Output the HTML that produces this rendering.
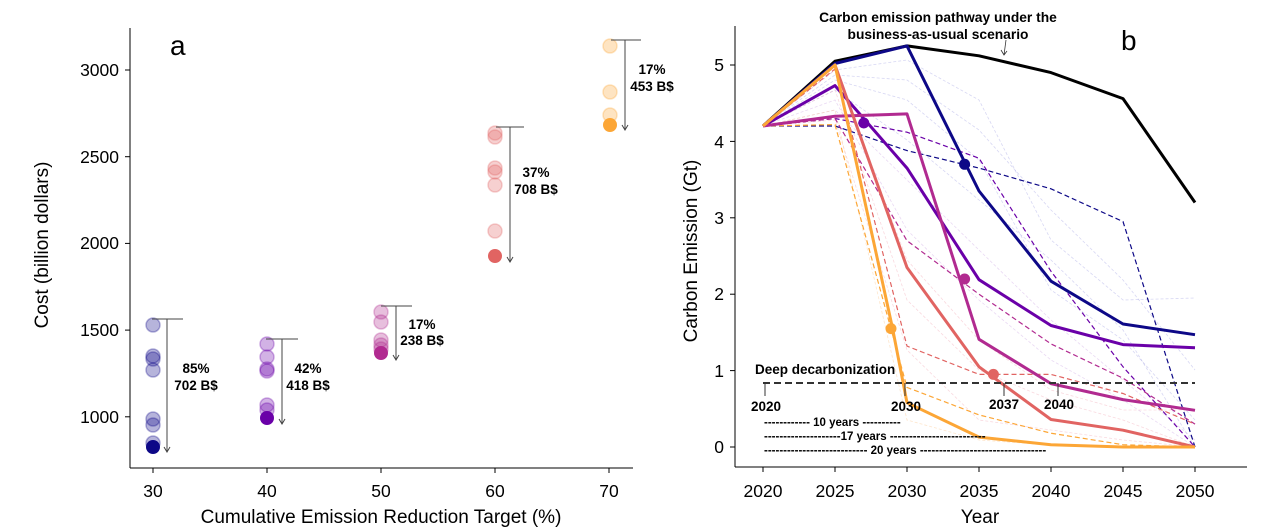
<!DOCTYPE html>
<html><head><meta charset="utf-8"><style>
html,body{margin:0;padding:0;background:#fff;}
svg{display:block;font-family:"Liberation Sans",Arial,sans-serif;}
</style></head><body>
<svg width="1271" height="531" viewBox="0 0 1271 531" xmlns="http://www.w3.org/2000/svg">
<!-- LEFT PANEL -->
<g stroke="#000" stroke-width="1" fill="none">
<line x1="130" y1="28" x2="130" y2="468"/>
<line x1="130" y1="468" x2="633" y2="468"/>
<line x1="125" y1="70" x2="130" y2="70"/><line x1="125" y1="156.7" x2="130" y2="156.7"/>
<line x1="125" y1="243.4" x2="130" y2="243.4"/><line x1="125" y1="330.1" x2="130" y2="330.1"/>
<line x1="125" y1="416.8" x2="130" y2="416.8"/>
<line x1="153" y1="468" x2="153" y2="473"/><line x1="267" y1="468" x2="267" y2="473"/>
<line x1="381" y1="468" x2="381" y2="473"/><line x1="495" y1="468" x2="495" y2="473"/>
<line x1="609" y1="468" x2="609" y2="473"/>
</g>
<g font-size="17.5" fill="#000" text-anchor="end">
<text x="119" y="76">3000</text><text x="119" y="163">2500</text><text x="119" y="249">2000</text>
<text x="119" y="336">1500</text><text x="119" y="423">1000</text>
</g>
<g font-size="17.5" fill="#000" text-anchor="middle">
<text x="153" y="497">30</text><text x="267" y="497">40</text><text x="381" y="497">50</text>
<text x="495" y="497">60</text><text x="609" y="497">70</text>
</g>
<g font-size="19" fill="#000" text-anchor="middle">
<text x="381" y="523">Cumulative Emission Reduction Target (%)</text>
<text transform="translate(48,245) rotate(-90)">Cost (billion dollars)</text>
</g>
<text x="170" y="55" font-size="28">a</text>
<!-- points -->
<g stroke-width="1.5">
<g fill="#0d0887" fill-opacity="0.3" stroke="#0d0887" stroke-opacity="0.3">
<circle cx="153" cy="325" r="7"/><circle cx="153" cy="356" r="7"/><circle cx="153" cy="359" r="7"/><circle cx="153" cy="370" r="7"/>
<circle cx="153" cy="419" r="7"/><circle cx="153" cy="425" r="7"/><circle cx="153" cy="443" r="7"/></g>
<circle cx="153" cy="447" r="7" fill="#0d0887"/>
<g fill="#6a00a8" fill-opacity="0.3" stroke="#6a00a8" stroke-opacity="0.3">
<circle cx="267" cy="344" r="7"/><circle cx="267" cy="357" r="7"/><circle cx="267" cy="369" r="7"/><circle cx="267" cy="371" r="7"/>
<circle cx="267" cy="405" r="7"/><circle cx="267" cy="410" r="7"/></g>
<circle cx="267" cy="418" r="7" fill="#6a00a8"/>
<g fill="#b12a90" fill-opacity="0.3" stroke="#b12a90" stroke-opacity="0.3">
<circle cx="381" cy="312" r="7"/><circle cx="381" cy="322" r="7"/><circle cx="381" cy="340" r="7"/><circle cx="381" cy="345" r="7"/><circle cx="381" cy="349" r="7"/></g>
<circle cx="381" cy="353" r="7" fill="#b12a90"/>
<g fill="#e16462" fill-opacity="0.3" stroke="#e16462" stroke-opacity="0.3">
<circle cx="495" cy="133" r="7"/><circle cx="495" cy="137" r="7"/><circle cx="495" cy="168" r="7"/><circle cx="495" cy="172" r="7"/>
<circle cx="495" cy="185" r="7"/><circle cx="495" cy="231" r="7"/></g>
<circle cx="495" cy="256" r="7" fill="#e16462"/>
<g fill="#fca636" fill-opacity="0.3" stroke="#fca636" stroke-opacity="0.3">
<circle cx="610" cy="46" r="7"/><circle cx="610" cy="92" r="7"/><circle cx="610" cy="115" r="7"/></g>
<circle cx="610" cy="125" r="7" fill="#fca636"/>
</g>
<!-- arrows -->
<g stroke="#444" stroke-width="1" fill="none">
<path d="M152 319H183M167 319V452M164 447L167 452L170 447"/>
<path d="M266 339H298M282 339V424M279 419L282 424L285 419"/>
<path d="M381 306H412M396 306V360M393 355L396 360L399 355"/>
<path d="M496 127H524M510 127V262M507 257L510 262L513 257"/>
<path d="M611 40H641M625 40V130M622 125L625 130L628 125"/>
</g>
<g font-size="13.5" font-weight="bold" text-anchor="middle" fill="#000">
<text x="196" y="373">85%</text><text x="196" y="390">702 B$</text>
<text x="308" y="373">42%</text><text x="308" y="390">418 B$</text>
<text x="422" y="329">17%</text><text x="422" y="345">238 B$</text>
<text x="536" y="177">37%</text><text x="536" y="194">708 B$</text>
<text x="652" y="74">17%</text><text x="652" y="91">453 B$</text>
</g>

<!-- RIGHT PANEL -->
<g stroke="#000" stroke-width="1" fill="none">
<line x1="735" y1="26" x2="735" y2="467"/>
<line x1="735" y1="467" x2="1247" y2="467"/>
<line x1="730" y1="447" x2="735" y2="447"/><line x1="730" y1="370.6" x2="735" y2="370.6"/>
<line x1="730" y1="294.2" x2="735" y2="294.2"/><line x1="730" y1="217.8" x2="735" y2="217.8"/>
<line x1="730" y1="141.4" x2="735" y2="141.4"/><line x1="730" y1="65" x2="735" y2="65"/>
<line x1="763" y1="467" x2="763" y2="472"/><line x1="835" y1="467" x2="835" y2="472"/>
<line x1="907" y1="467" x2="907" y2="472"/><line x1="979" y1="467" x2="979" y2="472"/>
<line x1="1051" y1="467" x2="1051" y2="472"/><line x1="1123" y1="467" x2="1123" y2="472"/>
<line x1="1195" y1="467" x2="1195" y2="472"/>
</g>
<g font-size="17.5" fill="#000" text-anchor="end">
<text x="724" y="453">0</text><text x="724" y="377">1</text><text x="724" y="300">2</text>
<text x="724" y="224">3</text><text x="724" y="148">4</text><text x="724" y="71">5</text>
</g>
<g font-size="17.5" fill="#000" text-anchor="middle">
<text x="763" y="497">2020</text><text x="835" y="497">2025</text><text x="907" y="497">2030</text>
<text x="979" y="497">2035</text><text x="1051" y="497">2040</text><text x="1123" y="497">2045</text>
<text x="1195" y="497">2050</text>
</g>
<g font-size="19" fill="#000" text-anchor="middle">
<text x="980" y="523">Year</text>
<text transform="translate(697,251) rotate(-90)">Carbon Emission (Gt)</text>
</g>
<text x="1121" y="50" font-size="28">b</text>
<!-- faint lines -->
<g fill="none" stroke-width="0.8" stroke-dasharray="3,2" stroke-opacity="0.4">
<polyline stroke="#9a9ae0" points="763,126 835,70 907,60 979,100 1051,240 1123,300 1195,298"/>
<polyline stroke="#9a9ae0" points="763,126 835,75 907,80 979,130 1051,210 1123,280 1195,370"/>
<polyline stroke="#9a9ae0" points="763,126 835,90 907,140 979,200 1051,260 1123,330 1195,447"/>
<polyline stroke="#9a9ae0" points="763,126 835,80 907,100 979,160 1051,290 1123,340 1195,420"/>
<polyline stroke="#c9a0e0" points="763,126 835,110 907,180 979,250 1051,320 1123,380 1195,440"/>
<polyline stroke="#c9a0e0" points="763,126 835,100 907,230 979,300 1051,360 1123,400 1195,447"/>
<polyline stroke="#f0a0b0" points="763,126 835,90 907,300 979,370 1051,400 1123,420 1195,447"/>
<polyline stroke="#f0a0b0" points="763,126 835,120 907,350 979,420 1051,430 1123,440 1195,447"/>
<polyline stroke="#f0a0b0" points="763,126 835,70 907,260 979,340 1051,390 1123,410 1195,410"/>
<polyline stroke="#fcc080" points="763,126 835,110 907,420 979,440 1051,445 1123,447 1195,447"/>
</g>
<!-- dashed series -->
<g fill="none" stroke-width="1.2" stroke-dasharray="5,3">
<polyline stroke="#0d0887" points="763,126 835,126 907,150.6 979,168.1 1051,188.8 1123,221.6 1195,447"/>
<polyline stroke="#6a00a8" points="763,126 835,118.5 907,132.2 979,158.2 1051,271.3 1123,366.8 1195,447"/>
<polyline stroke="#b12a90" points="763,126 835,118.5 907,240.7 979,294.2 1051,343.9 1123,378.2 1195,424.1"/>
<polyline stroke="#e16462" points="763,126 835,69 907,346.1 979,374.4 1051,374.4 1123,393.5 1195,424.1"/>
<polyline stroke="#fca636" points="763,126 835,124.6 907,387.4 979,414.9 1051,433.2 1123,444.7 1195,447"/>
</g>
<!-- solid series -->
<g fill="none" stroke-width="3" stroke-linejoin="round">
<polyline stroke="#000" points="763,126 835,61.2 907,45.9 979,55.8 1051,72.6 1123,98.6 1195,202.5"/>
<polyline stroke="#0d0887" points="763,126 835,63.5 907,45.9 979,191 1051,281.2 1123,324 1195,334.7"/>
<polyline stroke="#6a00a8" points="763,126 835,85.6 907,168.1 979,279.7 1051,325.5 1123,344.6 1195,347.7"/>
<polyline stroke="#b12a90" points="763,126 835,116.2 907,113.9 979,339.3 1051,383.6 1123,399.6 1195,410.3"/>
<polyline stroke="#e16462" points="763,126 835,65 907,267.5 979,366.8 1051,419.5 1123,430.2 1195,447"/>
<polyline stroke="#fca636" points="763,126 835,65 892.6,328.6 907,402.7 979,437.1 1051,444.7 1123,447 1195,447"/>
</g>
<g>
<circle cx="964.6" cy="164.3" r="5.5" fill="#0d0887"/>
<circle cx="863.8" cy="123" r="5.5" fill="#6a00a8"/>
<circle cx="964.6" cy="279" r="5.5" fill="#b12a90"/>
<circle cx="993.4" cy="374.4" r="5.5" fill="#e16462"/>
<circle cx="891" cy="328.6" r="5.5" fill="#fca636"/>
</g>
<!-- deep decarbonization -->
<line x1="763" y1="383" x2="1195" y2="383" stroke="#333" stroke-width="2" stroke-dasharray="7,4"/>
<g stroke="#333" stroke-width="1">
<line x1="765" y1="383" x2="765" y2="396"/><line x1="905" y1="383" x2="905" y2="396"/>
<line x1="1004" y1="383" x2="1004" y2="396"/><line x1="1058" y1="383" x2="1058" y2="396"/>
</g>
<g font-size="13.5" font-weight="bold" fill="#000">
<text x="755" y="374">Deep decarbonization</text>
<text x="766" y="411" text-anchor="middle">2020</text>
<text x="906" y="411" text-anchor="middle">2030</text>
<text x="1004" y="409" text-anchor="middle">2037</text>
<text x="1059" y="409" text-anchor="middle">2040</text>
</g>
<g font-size="11.5" font-weight="bold" fill="#000">
<text x="764" y="426">------------ 10 years ----------</text>
<text x="764" y="440">--------------------17 years -------------------------</text>
<text x="764" y="454">--------------------------- 20 years ---------------------------------</text>
</g>
<g font-size="13.8" font-weight="bold" fill="#000" text-anchor="middle">
<text x="938" y="22">Carbon emission pathway under the</text>
<text x="938" y="39">business-as-usual scenario</text>
</g>
<path d="M1006 40L1004 55M1001 50L1004 55L1007 51" stroke="#333" stroke-width="0.8" fill="none"/>
</svg>
</body></html>
